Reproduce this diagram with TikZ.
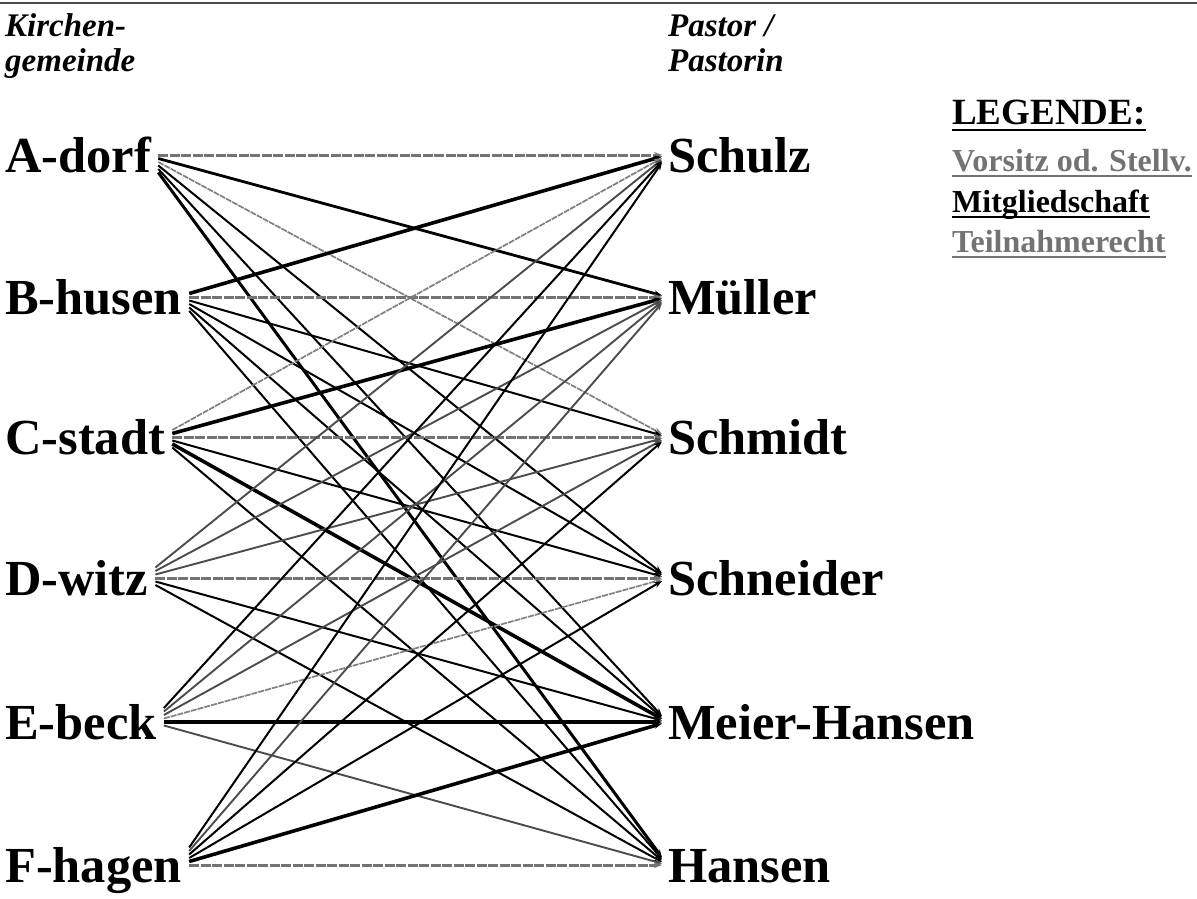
\documentclass[tikz,border=0pt]{standalone}
\usepackage{fontspec}
\setmainfont{Liberation Serif}
\usetikzlibrary{calc,arrows.meta}
\newcommand{\linkpc}[3]{\draw[#3] ($(L#1o)+(0,{3.5*(#2-#1)})$) -- ($(P#2i)+(0,{1.5*(#1-#2)})$);}
\begin{document}
\begin{tikzpicture}[x=1pt,y=-1pt,
  big/.style={anchor=base west, inner sep=0pt, font=\fontsize{50.5}{60}\selectfont\bfseries},
  head/.style={anchor=base west, inner sep=0pt, font=\fontsize{33}{35}\selectfont\bfseries\itshape},
  legtitle/.style={anchor=base west, inner sep=0pt, font=\fontsize{37}{40}\selectfont\bfseries},
  legitem/.style={anchor=base west, inner sep=0pt, font=\fontsize{32}{36}\selectfont\bfseries},
  tip/.style={-{Stealth[length=8pt,width=6pt]}},
  vors/.style={tip, draw=black!55, line width=3pt, dash pattern=on 10pt off 1.5pt},
  mitg/.style={tip, draw=black, line width=2pt},
  mitgthick/.style={tip, draw=black, line width=3.6pt},
  teil/.style={tip, draw=black!50, line width=1.7pt, dash pattern=on 6pt off 1pt},
  teildark/.style={tip, draw=black!70, line width=1.9pt},
  uline/.style={line width=2pt, draw=black},
  ulinegrey/.style={line width=1.6pt, draw=black!55}
]
\useasboundingbox (0,0) rectangle (1197,899);
\fill[white] (0,0) rectangle (1197,899);
\draw[line width=2pt, black!70] (0,3) -- (1197,3);

% headers
\node[head] (hk1) at (5,37) {Kirchen-};
\node[head] (hk2) at (5,72) {gemeinde};
\node[head] (hp1) at (668,37) {Pastor /};
\node[head] (hp2) at (668,72) {Pastorin};

% churches
\node[big] (L1) at (5,172) {A-dorf};
\node[big] (L2) at (5,314) {B-husen};
\node[big] (L3) at (5,454) {C-stadt};
\node[big] (L4) at (5,595) {D-witz};
\node[big] (L5) at (5,739) {E-beck};
\node[big] (L6) at (5,882) {F-hagen};

% pastors
\node[big] (P1) at (668,172) {Schulz};
\node[big] (P2) at (668,314) {Müller};
\node[big] (P3) at (668,454) {Schmidt};
\node[big] (P4) at (668,595) {Schneider};
\node[big] (P5) at (668,739) {Meier-Hansen};
\node[big] (P6) at (668,882) {Hansen};

% attachment points
\foreach \n in {1,...,6}{
  \coordinate (L\n o) at ($(L\n.base east)+(7,-17)$);
  \coordinate (P\n i) at ($(P\n.base west)+(-6,-17)$);
}

% legend
\node[legtitle] (lt) at (952,124) {LEGENDE:};
\draw[uline] ($(lt.base west)+(0,6)$) -- ($(lt.base east)+(0,6)$);
\node[legitem, text=black!55] (l1) at (952,171) {Vorsitz od. Stellv.};
\draw[ulinegrey] ($(l1.base west)+(0,5)$) -- ($(l1.base east)+(0,5)$);
\node[legitem] (l2) at (952,212) {Mitgliedschaft};
\draw[uline] ($(l2.base west)+(0,5)$) -- ($(l2.base east)+(0,5)$);
\node[legitem, text=black!55] (l3) at (952,252) {Teilnahmerecht};
\draw[ulinegrey] ($(l3.base west)+(0,5)$) -- ($(l3.base east)+(0,5)$);

% connectors: A-dorf
\linkpc{1}{1}{vors}
\linkpc{1}{2}{mitg, line width=2.8pt}
\linkpc{1}{3}{teil}
\linkpc{1}{4}{mitg}
\linkpc{1}{5}{mitg}
\linkpc{1}{6}{mitg, line width=3pt}
% B-husen
\linkpc{2}{1}{mitgthick}
\linkpc{2}{2}{vors}
\linkpc{2}{3}{mitg}
\linkpc{2}{4}{mitg}
\linkpc{2}{5}{mitg}
\linkpc{2}{6}{mitg}
% C-stadt
\linkpc{3}{1}{teil}
\linkpc{3}{2}{mitgthick}
\linkpc{3}{3}{vors}
\linkpc{3}{4}{mitg}
\linkpc{3}{5}{mitgthick}
\linkpc{3}{6}{mitg}
% D-witz
\linkpc{4}{1}{teildark}
\linkpc{4}{2}{teildark}
\linkpc{4}{3}{teildark}
\linkpc{4}{4}{vors}
\linkpc{4}{5}{mitg}
\linkpc{4}{6}{mitg}
% E-beck
\linkpc{5}{1}{mitg}
\linkpc{5}{2}{teildark}
\linkpc{5}{3}{teildark}
\linkpc{5}{4}{teil}
\linkpc{5}{5}{mitgthick}
\linkpc{5}{6}{teildark}
% F-hagen
\linkpc{6}{1}{mitg}
\linkpc{6}{2}{teildark}
\linkpc{6}{3}{mitg}
\linkpc{6}{4}{mitg}
\linkpc{6}{5}{mitgthick}
\linkpc{6}{6}{vors}
\end{tikzpicture}
\end{document}
